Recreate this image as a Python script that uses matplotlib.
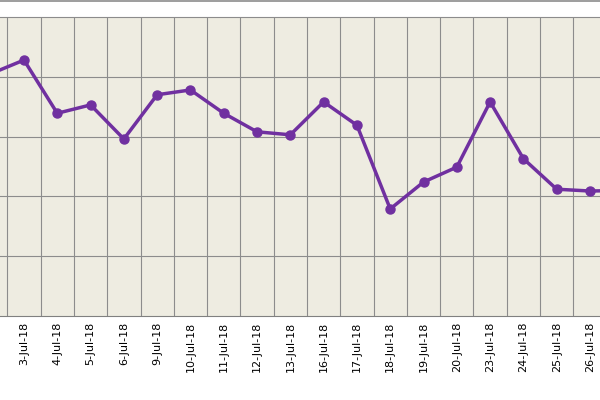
import numpy as np
import matplotlib.pyplot as plt

dates = ['2-Jul-18', '3-Jul-18', '4-Jul-18', '5-Jul-18', '6-Jul-18', '9-Jul-18', '10-Jul-18',
         '11-Jul-18', '12-Jul-18', '13-Jul-18', '16-Jul-18', '17-Jul-18', '18-Jul-18',
         '19-Jul-18', '20-Jul-18', '23-Jul-18', '24-Jul-18', '25-Jul-18', '26-Jul-18', '27-Jul-18']
values = [4.05, 4.28, 3.39, 3.53, 2.96, 3.70, 3.78, 3.39, 3.08, 3.03, 3.58, 3.19, 1.79,
          2.24, 2.49, 3.58, 2.63, 2.12, 2.09, 2.10]

x = np.arange(len(dates)) - 1

fig = plt.figure(figsize=(6, 4), dpi=100)
fig.patch.set_facecolor('white')
# plot area runs from y=17px to y=316px
ax = fig.add_axes([0, 0.21, 1, 0.7475])
ax.set_facecolor('#EEECE1')

ax.plot(x, values, '-o', color='#7030A0', lw=2.5, ms=6.5, zorder=3, clip_on=True)

ax.set_xlim(-0.72, 17.3)
ax.set_ylim(0, 5)
for g in np.arange(-0.5, 18, 1):
    ax.axvline(g, color='#8C8C8C', lw=0.8, zorder=1)
for g in range(1, 5):
    ax.axhline(g, color='#8C8C8C', lw=0.8, zorder=1)

ax.set_yticks([])
ax.set_xticks(x[1:19])
ax.set_xticklabels(dates[1:19], rotation=90, fontsize=8, family='DejaVu Sans')
ax.tick_params(axis='x', length=0, pad=4)
for s in ['left', 'right']:
    ax.spines[s].set_visible(False)
ax.spines['bottom'].set_color('#808080')
ax.spines['top'].set_color('#8C8C8C')

# chart border at top edge
fig.add_artist(plt.Line2D([0, 1], [0.997, 0.997], color='#8C8C8C', lw=1.2))

fig.savefig('out.png', dpi=100)
